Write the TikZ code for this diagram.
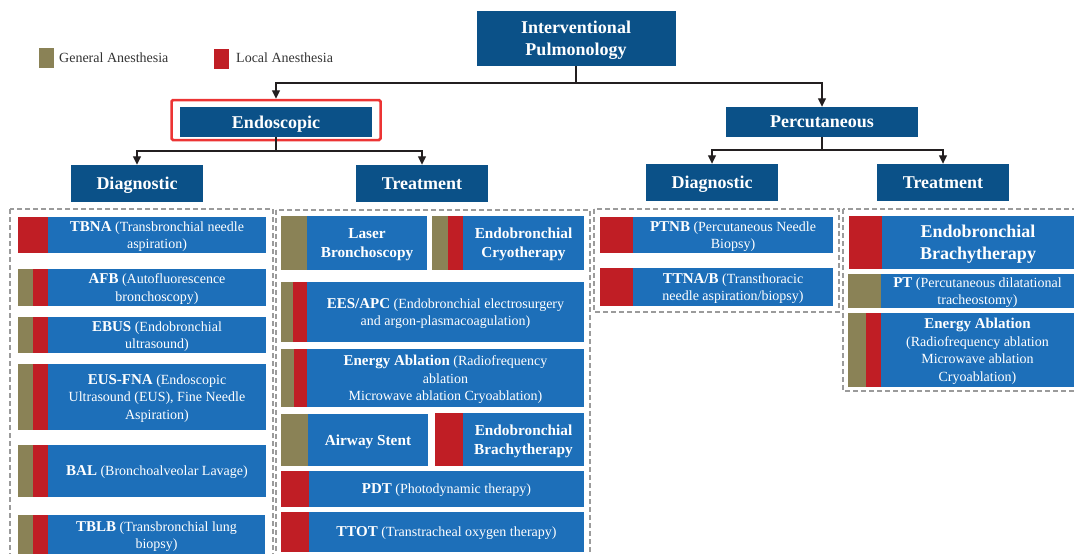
\documentclass[tikz,border=0pt]{standalone}
\usepackage{fontspec}
\setmainfont{Liberation Serif}
\usetikzlibrary{arrows.meta}
\definecolor{navy}{RGB}{11,81,136}
\definecolor{itemblue}{RGB}{29,111,185}
\definecolor{gaolive}{RGB}{138,130,86}
\definecolor{lared}{RGB}{192,30,37}
\definecolor{framered}{RGB}{236,52,52}
\definecolor{dashgray}{RGB}{155,155,155}
\definecolor{conncol}{RGB}{35,31,32}
\newcommand\B[1]{{\fontsize{15}{17.5}\selectfont\bfseries #1}}
\tikzset{
  title/.style={fill=navy, text=white, inner sep=0pt, align=center, text depth=0pt,
    font=\fontsize{18}{22}\selectfont\bfseries},
  itembox/.style={fill=itemblue, text=white, inner sep=0pt, align=center, text depth=0pt,
    font=\fontsize{14}{17.5}\selectfont},
  bigitem/.style={itembox, font=\fontsize{15.3}{19}\selectfont\bfseries},
  hugeitem/.style={itembox, font=\fontsize{18}{22}\selectfont\bfseries},
  legtext/.style={inner sep=0pt, anchor=west, text=black!80,
    font=\fontsize{14}{16}\selectfont},
  conn/.style={draw=conncol, line width=1.2pt, -{Triangle[width=8pt,length=8.5pt]}},
  dbox/.style={draw=dashgray, line width=1.1pt, dash pattern=on 5pt off 3pt},
}
\begin{document}
\begin{tikzpicture}[x=1pt,y=-1pt]
\useasboundingbox (0,0) rectangle (1074,554);
\clip (0,0) rectangle (1074,554);

% legend
\fill[gaolive] (39,48) rectangle (54,68);
\node[legtext] (lg1) at (59,58) {General Anesthesia};
\fill[lared] (214,49) rectangle (229,69);
\node[legtext] (lg2) at (236,58) {Local Anesthesia};

% hierarchy
\node[title, minimum width=199pt, minimum height=55pt] (ip) at (576,38.5) {Interventional\\Pulmonology};
\node[title, minimum width=192pt, minimum height=30pt] (endo) at (276,122) {Endoscopic};
\node[draw=framered, line width=2.5pt, rounded corners=1.5pt, minimum width=209pt, minimum height=40pt, inner sep=0pt] (endoframe) at (276,120) {};
\node[title, minimum width=192pt, minimum height=30pt] (perc) at (822,122) {Percutaneous};
\node[title, minimum width=132pt, minimum height=37pt] (dl) at (137,183.5) {Diagnostic};
\node[title, minimum width=132pt, minimum height=37pt] (tl) at (422,183.5) {Treatment};
\node[title, minimum width=132pt, minimum height=37pt] (dr) at (712,182.5) {Diagnostic};
\node[title, minimum width=132pt, minimum height=37pt] (tr) at (943,182.5) {Treatment};

\coordinate (j0) at (576,83);
\coordinate (j1) at (276,151);
\coordinate (j2) at (822,150);
\draw[conn] (ip.south) -- (j0) -| (endoframe.north);
\draw[conn] (j0) -| (perc.north);
\draw[conn] (endo.south) -- (j1) -| (dl.north);
\draw[conn] (j1) -| (tl.north);
\draw[conn] (perc.south) -- (j2) -| (dr.north);
\draw[conn] (j2) -| (tr.north);

% dashed groups
\draw[dbox] (10,209) rectangle (273,580);
\draw[dbox] (276,210) rectangle (590,580);
\draw[dbox] (594,209) rectangle (839,312);
\draw[dbox] (843,209) rectangle (1090,391);

% endoscopic diagnostic
\fill[lared] (18,217) rectangle (48.5,253);
\node[itembox, minimum width=218pt, minimum height=36pt] (tbna) at (157,235) {\B{TBNA} (Transbronchial needle\\aspiration)};
\fill[gaolive] (18,269) rectangle (33,306);
\fill[lared] (33,269) rectangle (48.5,306);
\node[itembox, minimum width=218pt, minimum height=37pt] (afb) at (157,287.5) {\B{AFB} (Autofluorescence\\bronchoscopy)};
\fill[gaolive] (18,317) rectangle (33,353);
\fill[lared] (33,317) rectangle (48.5,353);
\node[itembox, minimum width=218pt, minimum height=36pt] (ebus) at (157,335) {\B{EBUS} (Endobronchial\\ultrasound)};
\fill[gaolive] (18,364) rectangle (33,430);
\fill[lared] (33,364) rectangle (48.5,430);
\node[itembox, minimum width=218pt, minimum height=66pt] (eus) at (157,397) {\B{EUS-FNA} (Endoscopic\\Ultrasound (EUS), Fine Needle\\Aspiration)};
\fill[gaolive] (18,445) rectangle (33,497);
\fill[lared] (33,445) rectangle (48.5,497);
\node[itembox, minimum width=218pt, minimum height=52pt] (bal) at (157,471) {\B{BAL} (Bronchoalveolar Lavage)};
\fill[gaolive] (18,515) rectangle (33,555);
\fill[lared] (33,515) rectangle (48.5,555);
\node[itembox, minimum width=217pt, minimum height=40pt] (tblb) at (156.5,535) {\B{TBLB} (Transbronchial lung\\biopsy)};

% endoscopic treatment
\fill[gaolive] (281,216) rectangle (307.5,270);
\node[bigitem, minimum width=120pt, minimum height=54pt] (laser) at (367,243) {Laser\\Bronchoscopy};
\fill[gaolive] (432,216) rectangle (448,270);
\fill[lared] (448,216) rectangle (463.5,270);
\node[bigitem, minimum width=121pt, minimum height=54pt] (cryo) at (523.5,243) {Endobronchial\\Cryotherapy};
\fill[gaolive] (281,282) rectangle (293,342);
\fill[lared] (293,282) rectangle (307.5,342);
\node[itembox, minimum width=277pt, minimum height=60pt] (ees) at (445.5,312) {\B{EES/APC} (Endobronchial electrosurgery\\and argon-plasmacoagulation)};
\fill[gaolive] (281,349) rectangle (294,407);
\fill[lared] (294,349) rectangle (307.5,407);
\node[itembox, minimum width=277pt, minimum height=58pt] (ea) at (445.5,378) {\B{Energy Ablation} (Radiofrequency\\ablation\\Microwave ablation Cryoablation)};
\fill[gaolive] (281,414) rectangle (308.5,466);
\node[bigitem, minimum width=120pt, minimum height=52pt] (stent) at (368,440) {Airway Stent};
\fill[lared] (435,413) rectangle (463.5,466);
\node[bigitem, minimum width=121pt, minimum height=53pt] (ebt) at (523.5,439.5) {Endobronchial\\Brachytherapy};
\fill[lared] (281,471) rectangle (309.5,507);
\node[itembox, minimum width=275pt, minimum height=36pt] (pdt) at (446.5,489) {\B{PDT} (Photodynamic therapy)};
\fill[lared] (281,512) rectangle (309.5,552);
\node[itembox, minimum width=275pt, minimum height=40pt] (ttot) at (446.5,532) {\B{TTOT} (Transtracheal oxygen therapy)};

% percutaneous diagnostic
\fill[lared] (600,217) rectangle (633.5,253);
\node[itembox, minimum width=200pt, minimum height=36pt] (ptnb) at (733,235) {\B{PTNB} (Percutaneous Needle\\Biopsy)};
\fill[lared] (600,268) rectangle (633.5,306);
\node[itembox, minimum width=200pt, minimum height=38pt] (ttna) at (733,287) {\B{TTNA/B} (Transthoracic\\needle aspiration/biopsy)};

% percutaneous treatment
\fill[lared] (849,216) rectangle (882.5,269);
\node[hugeitem, minimum width=192pt, minimum height=53pt] (ebt2) at (978,242.5) {Endobronchial\\Brachytherapy};
\fill[gaolive] (848,274) rectangle (881.5,308);
\node[itembox, minimum width=193pt, minimum height=34pt] (pt) at (977.5,291) {\B{PT} (Percutaneous dilatational\\tracheostomy)};
\fill[gaolive] (848,313) rectangle (866,387);
\fill[lared] (866,313) rectangle (881.5,387);
\node[itembox, minimum width=193pt, minimum height=74pt] (ea2) at (977.5,350) {\B{Energy Ablation}\\(Radiofrequency ablation\\Microwave ablation\\Cryoablation)};
\end{tikzpicture}
\end{document}
